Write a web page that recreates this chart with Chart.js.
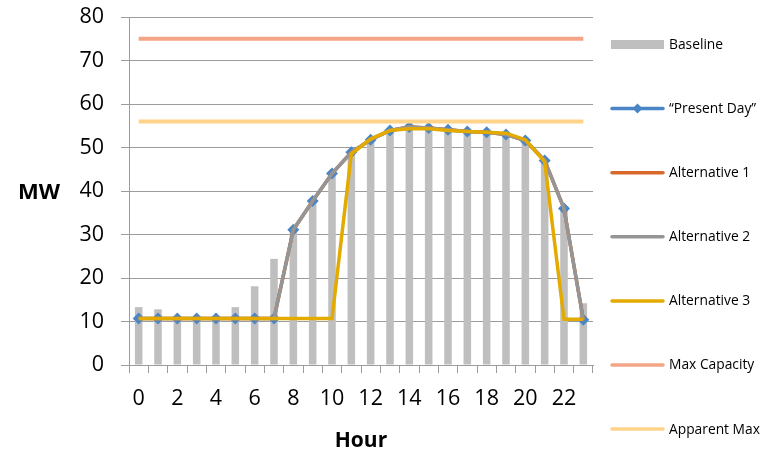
<!DOCTYPE html>
<html lang="en">
<head>
<meta charset="UTF-8">
<title>Hourly MW</title>
<script src="https://cdn.jsdelivr.net/npm/chart.js"></script>
<style>
  html, body { margin: 0; padding: 0; background: #fff; }
  #wrap { width: 767px; height: 454px; }
</style>
</head>
<body>
<div id="wrap"><canvas id="chart" width="767" height="454"></canvas></div>
<script>
const hours = [0,1,2,3,4,5,6,7,8,9,10,11,12,13,14,15,16,17,18,19,20,21,22,23];
const baseline   = [13.3, 12.8, 11.0, 11.0, 11.0, 13.3, 18.1, 24.4, 31.1, 37.7, 44.0, 48.9, 51.8, 53.9, 54.7, 54.5, 54.1, 53.7, 53.5, 53.0, 51.6, 47.0, 36.0, 14.2];
const presentDay = [10.7, 10.7, 10.7, 10.7, 10.7, 10.7, 10.7, 10.7, 31.1, 37.7, 44.0, 48.9, 51.8, 53.9, 54.7, 54.5, 54.1, 53.7, 53.5, 53.0, 51.6, 47.0, 36.0, 10.4];
const alternative1 = [10.7, 10.7, 10.7, 10.7, 10.7, 10.7, 10.7, 10.7, 31.1, 37.7, 44.0, 48.9, 51.8, 53.9, 54.7, 54.5, 54.1, 53.7, 53.5, 53.0, 51.6, 47.0, 36.0, 10.4];
const alternative2 = [10.7, 10.7, 10.7, 10.7, 10.7, 10.7, 10.7, 10.7, 31.1, 37.7, 44.0, 48.9, 51.8, 53.9, 54.7, 54.5, 54.1, 53.7, 53.5, 53.0, 51.6, 47.0, 36.0, 10.4];
const alternative3 = [10.7, 10.7, 10.7, 10.7, 10.7, 10.7, 10.7, 10.7, 10.7, 10.7, 10.7, 48.5, 52.0, 53.9, 54.3, 54.3, 53.9, 53.7, 53.5, 53.3, 51.8, 46.7, 10.5, 10.5];
const maxCapacity = hours.map(() => 75);
const apparentMax = hours.map(() => 56);
const yTicks = [0, 10, 20, 30, 40, 50, 60, 70, 80];

const FONT = "'Open Sans', sans-serif";
const AXIS_GREY = '#9c9c9c';

function lineSet(label, data, color, width, order) {
    return {
        type: 'line', label: label, data: data,
        borderColor: color, backgroundColor: color,
        borderWidth: width, pointRadius: 0, tension: 0,
        fill: false, order: order
    };
}

// legend drawn by hand on the right, like the Excel one
const sideLegend = {
    id: 'sideLegend',
    afterDraw(chart) {
        const ctx = chart.ctx;
        const items = chart.data.datasets;
        ctx.save();
        ctx.font = "13.8px " + FONT;
        ctx.textBaseline = 'middle';
        ctx.fillStyle = '#000';
        items.forEach((ds, i) => {
            const y = 44.5 + i * 64.1;
            if (ds.type === 'bar') {
                ctx.fillStyle = ds.backgroundColor;
                ctx.fillRect(611, y - 4.5, 53, 9);
            } else {
                ctx.strokeStyle = ds.borderColor;
                ctx.lineWidth = 3.5;
                ctx.lineCap = 'round';
                ctx.beginPath();
                ctx.moveTo(612, y);
                ctx.lineTo(663, y);
                ctx.stroke();
                if (ds.pointRadius > 0) {
                    ctx.fillStyle = ds.pointBackgroundColor;
                    ctx.beginPath();
                    ctx.moveTo(637.5, y - 5);
                    ctx.lineTo(642.5, y);
                    ctx.lineTo(637.5, y + 5);
                    ctx.lineTo(632.5, y);
                    ctx.closePath();
                    ctx.fill();
                }
            }
            ctx.fillStyle = '#000';
            ctx.fillText(ds.label, 669, y + 0.5);
        });
        // y axis title sits horizontal left of the ticks
        ctx.font = "bold 22px " + FONT;
        ctx.textAlign = 'center';
        ctx.fillText('MW', 39, 193);
        ctx.restore();
    }
};

const ctx = document.getElementById('chart').getContext('2d');
new Chart(ctx, {
    type: 'bar',
    data: {
        labels: hours,
        datasets: [
            { type: 'bar', label: 'Baseline', data: baseline, backgroundColor: '#bfbfbf',
              barPercentage: 0.39, categoryPercentage: 1.0, order: 9 },
            { type: 'line', label: '\u201cPresent Day\u201d', data: presentDay,
              borderColor: '#4a86c5', backgroundColor: '#4a86c5', borderWidth: 3,
              pointStyle: 'rectRot', pointRadius: 6, pointBackgroundColor: '#4a86c5',
              pointBorderWidth: 0, tension: 0, fill: false, order: 6 },
            lineSet('Alternative 1', alternative1, '#d9692a', 3.5, 5),
            lineSet('Alternative 2', alternative2, '#959595', 3.5, 4),
            lineSet('Alternative 3', alternative3, '#e3aa00', 3.5, 3),
            lineSet('Max Capacity', maxCapacity, '#f4a585', 4, 2),
            lineSet('Apparent Max', apparentMax, '#ffd48a', 4, 1)
        ]
    },
    options: {
        responsive: false,
        animation: false,
        events: [],
        layout: { padding: { top: 17, right: 174, left: 0, bottom: 0 } },
        plugins: { legend: { display: false }, tooltip: { enabled: false } },
        scales: {
            x: {
                offset: true,
                grid: { offset: true, drawOnChartArea: false, drawTicks: true, tickLength: 8, color: AXIS_GREY },
                border: { color: AXIS_GREY, width: 1 },
                ticks: {
                    autoSkip: false, maxRotation: 0, padding: 13,
                    color: '#000', font: { family: FONT, size: 21.5 },
                    callback: (v, i) => (i % 2 === 0 ? String(hours[i]) : '')
                },
                title: { display: true, text: 'Hour', color: '#000',
                         font: { family: FONT, size: 21, weight: 'bold' }, padding: { top: 0, bottom: 0 } },
                afterFit: s => { s.height = 89; s.paddingLeft = 0; s.paddingRight = 0; }
            },
            y: {
                min: 0, max: 80,
                afterBuildTicks: s => { s.ticks = yTicks.map(v => ({ value: v })); },
                grid: { color: AXIS_GREY, tickLength: 8, drawTicks: true },
                border: { color: AXIS_GREY, width: 1 },
                ticks: { padding: 17, color: '#000', font: { family: FONT, size: 21.5 } },
                afterFit: s => { s.width = 129; s.paddingTop = 0; s.paddingBottom = 0; }
            }
        }
    },
    plugins: [sideLegend]
});
</script>
</body>
</html>
